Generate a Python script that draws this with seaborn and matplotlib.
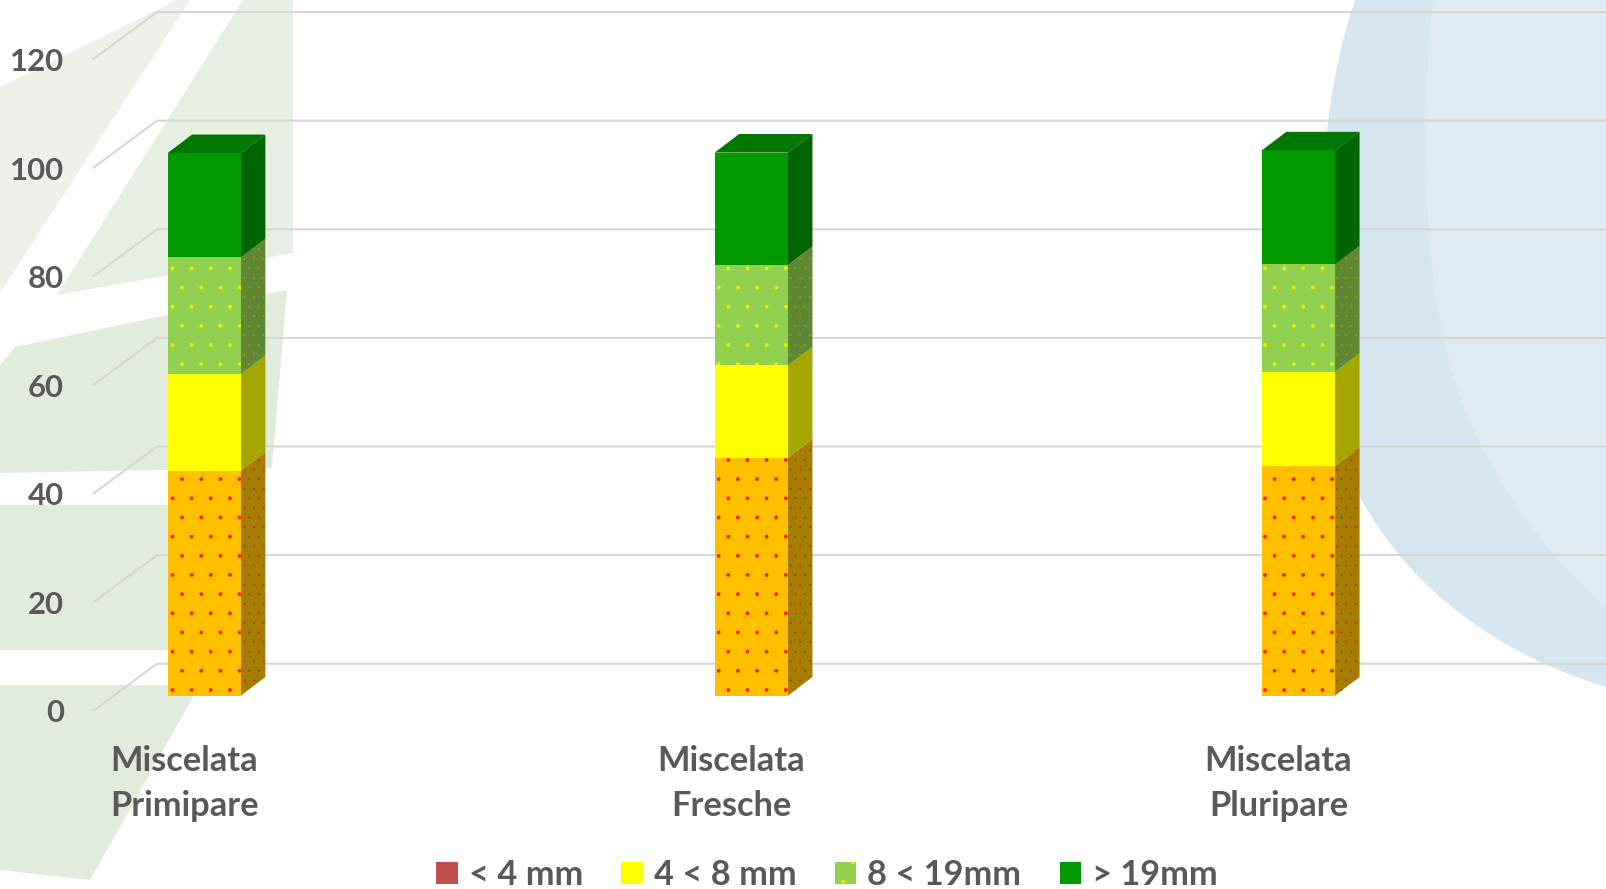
import numpy as np
import seaborn as sns
import matplotlib.pyplot as plt
from matplotlib.patches import Patch, Polygon, PathPatch
from matplotlib.path import Path
from matplotlib.transforms import Affine2D

# values
categories = ["Miscelata\nPrimipare", "Miscelata\nFresche", "Miscelata\nPluripare"]
under_4 = [41.4, 43.8, 42.3]
from_4_to_8 = [17.8, 17.0, 17.3]
from_8_to_19 = [21.5, 18.5, 19.8]
over_19 = [19.2, 20.7, 21.0]
y_ticks = [0, 20, 40, 60, 80, 100, 120]
legend_labels = ["< 4 mm", "4 < 8 mm", "8 < 19mm", "> 19mm"]

face_colors = ["#FFC000", "#FFFF00", "#92D050", "#009900"]
dot_colors = ["#FF2000", None, "#E8F000", None]
side_colors = ["#A67D00", "#A6A600", "#5F8734", "#006400"]
side_dots = ["#A83000", None, "#9AA000", None]
top_color = "#007700"
legend_colors = ["#C0504D", "#FFFF00", "#92D050", "#009900"]

# watermark shapes, in picture pixels
leaf_light = [(0, 87), (177, 0), (190, 0), (0, 293)]
leaf_upper = [(57, 295), (243, 0), (293, 0), (293, 253)]
leaf_middle = [(0, 365), (15, 347), (287, 290), (272, 468), (0, 473)]
leaf_block = [(0, 505), (230, 505), (230, 650), (0, 650)]
leaf_lower = [(0, 685), (193, 685), (193, 697), (90, 880), (0, 870)]
drop_outer = [(1355, 0), (1310, 130), (1310, 330), (1360, 497), (1410, 590), (1500, 655), (1606, 687), (1606, 0), (1355, 0)]
drop_inner = [(1433, 0), (1420, 130), (1425, 260), (1445, 345), (1470, 450), (1530, 540), (1606, 607), (1606, 0), (1433, 0)]
drop_codes = [Path.MOVETO] + [Path.CURVE4] * 6 + [Path.LINETO, Path.CLOSEPOLY]

W, H, DPI = 1606, 889, 115
PX_X = 547.1   # px per category
PX_Y = 5.43    # px per unit
GREY = "#595959"

sns.set_theme(style="white")
plt.rcParams["font.family"] = ["Lato", "DejaVu Sans"]
plt.rcParams["hatch.linewidth"] = 0.0

fig = plt.figure(figsize=(W / DPI, H / DPI), dpi=DPI)
ax = fig.add_axes([0, 0, 1, 1])

stack = np.array([under_4, from_4_to_8, from_8_to_19, over_19])
tops = stack.cumsum(axis=0)

# front faces, tallest first so each one only shows above the next
for s in range(3, -1, -1):
    n_before = len(ax.patches)
    sns.barplot(x=categories, y=tops[s], color=face_colors[s], saturation=1, width=0.134, ax=ax)
    for bar in ax.patches[n_before:]:
        bar.set_zorder(4)
        bar.set_linewidth(0)
        if dot_colors[s]:
            bar.set_edgecolor(dot_colors[s])
            bar.set_hatch(".")

ax.set_xlim(-204.2 / PX_X, (W - 204.2) / PX_X)
ax.set_ylim(-(H - 695.6) / PX_Y, 695.6 / PX_Y)
ax.axis("off")

# background
px = Affine2D().scale(1 / W, -1 / H).translate(0, 1) + fig.transFigure
for pts, col in [(leaf_light, "#ECF2E9"), (leaf_upper, "#E6EFE2"), (leaf_middle, "#E2ECDD"),
                 (leaf_block, "#E2ECDD"), (leaf_lower, "#E2ECDD")]:
    ax.add_patch(Polygon(pts, closed=True, transform=px, facecolor=col, edgecolor="none", zorder=0))
for pts, col in [(drop_outer, "#D6E6F1"), (drop_inner, "#DEEBF5")]:
    ax.add_patch(PathPatch(Path(pts, drop_codes), transform=px, facecolor=col, edgecolor="none", zorder=0))

# 3d sides and top
depth_x = 24.5 / PX_X
depth_y = 18.6 / PX_Y
half = 0.134 / 2
for c in range(len(categories)):
    right = c + half
    for s in range(4):
        low = tops[s - 1][c] if s > 0 else 0
        high = tops[s][c]
        side = Polygon([(right, low), (right + depth_x, low + depth_y),
                        (right + depth_x, high + depth_y), (right, high)],
                       closed=True, facecolor=side_colors[s], linewidth=0, zorder=3,
                       edgecolor=side_dots[s] or side_colors[s], hatch=".." if side_dots[s] else None)
        ax.add_patch(side)
    high = tops[3][c]
    ax.add_patch(Polygon([(c - half, high), (c - half + depth_x, high + depth_y),
                          (right + depth_x, high + depth_y), (right, high)],
                         closed=True, facecolor=top_color, linewidth=0, zorder=3))

# floor/wall grid lines
wall = 31.9 / PX_Y
front = 47.3 / PX_Y
wall_x = 157
stem_x = 93
x0, x1 = ax.get_xlim()
to_cat = lambda p: p / PX_X + x0
for t in y_ticks:
    ax.plot([to_cat(stem_x), to_cat(wall_x), x1], [t + wall - front, t + wall, t + wall],
            color="#D6D6D6", lw=1.3, zorder=1, solid_capstyle="butt")
    ax.text(to_cat(64), t + wall - front, str(t), ha="right", va="center_baseline",
            fontsize=19.5, fontweight="bold", color=GREY, zorder=5)

for c, name in enumerate(categories):
    ax.text(c - 20 / PX_X, -16.1, name, ha="center", va="center", fontsize=21.5,
            fontweight="bold", color=GREY, linespacing=1.5, zorder=5)

handles = []
for i in range(4):
    if i == 2:
        handles.append(Patch(facecolor=legend_colors[i], edgecolor="#E8F000", hatch=".", linewidth=0))
    else:
        handles.append(Patch(facecolor=legend_colors[i], edgecolor="none", linewidth=0))
ax.legend(handles, legend_labels, ncol=4, frameon=False, loc="center", bbox_to_anchor=(827 / W, 1 - 875 / H),
          handlelength=0.62, handleheight=0.58, handletextpad=0.32, columnspacing=1.12,
          labelcolor=GREY, borderpad=0, prop={"weight": "bold", "size": 21.5, "family": "Lato"})

fig.savefig("out.png", dpi=DPI)
